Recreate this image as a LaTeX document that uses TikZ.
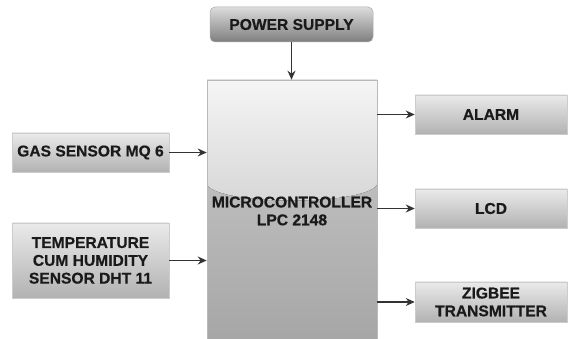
\documentclass[tikz,border=0pt]{standalone}
\usepackage{fontspec}
\setmainfont{Liberation Sans}
\newfontfamily\heavy{Liberation Sans Bold}[FakeBold=0.6]
\usetikzlibrary{arrows.meta,calc}
\definecolor{txt}{HTML}{1A1A1A}
\definecolor{lnc}{HTML}{333333}
\definecolor{sa}{HTML}{EAEAEA}
\definecolor{sd}{HTML}{B2B2B2}
\definecolor{pa}{HTML}{DCDCDC}
\definecolor{pd}{HTML}{7E7E7E}
\definecolor{ma}{HTML}{F5F5F5}
\definecolor{mb}{HTML}{D6D6D6}
\definecolor{mc}{HTML}{CCCCCC}
\definecolor{md}{HTML}{A6A6A6}
\tikzset{
  gloss/.style n args={4}{path picture={
    \fill[top color=#3,bottom color=#4]
      let \p1=(path picture bounding box.north west), \p2=(path picture bounding box.south east) in
      (\x1,{\y1+0.38*(\y2-\y1)}) rectangle (\x2,\y2);
    \fill[top color=#1,bottom color=#2]
      let \p1=(path picture bounding box.north west), \p2=(path picture bounding box.south east) in
      (\x1,\y1) -- (\x1,{\y1+0.40*(\y2-\y1)})
      .. controls ({\x1+0.08*(\x2-\x1)},{\y1+0.48*(\y2-\y1)}) and ({\x1+0.92*(\x2-\x1)},{\y1+0.48*(\y2-\y1)}) ..
      (\x2,{\y1+0.40*(\y2-\y1)}) -- (\x2,\y1) -- cycle;
  }},
  lbl/.style={inner sep=0pt, align=center, font=\fontsize{15.6}{17.8}\selectfont\heavy, text=txt},
  sidebox/.style={lbl, draw=gray!40, line width=0.5pt, top color=sa, bottom color=sd},
  psbox/.style={lbl, draw=gray!65, line width=0.5pt, rounded corners=5pt, top color=pa, bottom color=pd},
  mcbox/.style={lbl, draw=gray!55, line width=0.6pt, gloss={ma}{mb}{mc}{md}},
  conn/.style={draw=lnc, line width=1.2pt, -{Stealth[length=9pt,width=8pt]}},
}
\begin{document}
\begin{tikzpicture}[x=1pt,y=-1pt]
\useasboundingbox[fill=white] (0,0) rectangle (568,339);
\node[psbox, minimum width=163pt, minimum height=35pt] (ps) at (291.5,24.5) {POWER SUPPLY};
\node[mcbox, minimum width=170pt, minimum height=262pt] (micro) at (292,211) {MICROCONTROLLER\\LPC 2148};
\node[sidebox, minimum width=157pt, minimum height=39pt] (gas) at (90.5,152.5) {GAS SENSOR MQ 6};
\node[sidebox, minimum width=157pt, minimum height=75pt] (temp) at (90.5,260.5) {TEMPERATURE\\CUM HUMIDITY\\SENSOR DHT 11};
\node[sidebox, minimum width=152pt, minimum height=39pt] (alarm) at (491,114.5) {ALARM};
\node[sidebox, minimum width=152pt, minimum height=39pt] (lcd) at (491,208.5) {LCD};
\node[sidebox, minimum width=152pt, minimum height=40pt] (zig) at (491,302) {ZIGBEE\\TRANSMITTER};
\draw[conn] (ps.south) -- (ps.south |- micro.north);
\draw[conn] (gas.east) -- (gas.east -| micro.west);
\draw[conn] (temp.east) -- (temp.east -| micro.west);
\draw[conn] (micro.east |- alarm.west) -- (alarm.west);
\draw[conn] (micro.east |- lcd.west) -- (lcd.west);
\draw[conn] (micro.east |- zig.west) -- (zig.west);
\end{tikzpicture}
\end{document}
